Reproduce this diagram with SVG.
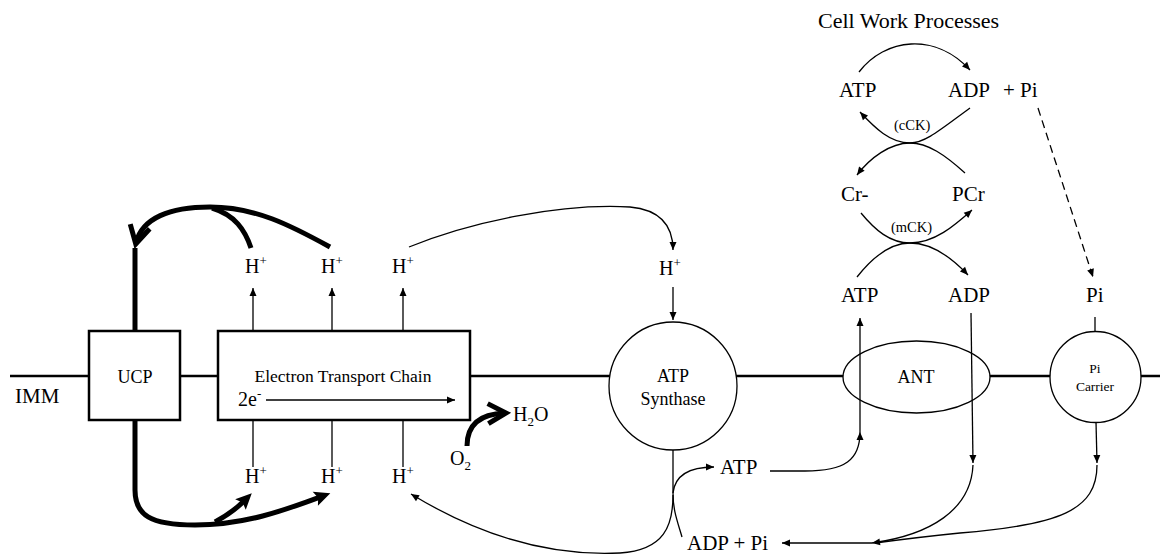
<svg xmlns="http://www.w3.org/2000/svg" width="1160" height="557" viewBox="0 0 1160 557">
<style>
text{font-family:"Liberation Serif","Times New Roman",serif;fill:#000}
.lbl{font-size:21px}
.h{font-size:20px}
.sup{font-size:13px}
.thin{fill:none;stroke:#000;stroke-width:1.3}
.thick{fill:none;stroke:#000;stroke-width:5}
.node{fill:#fff;stroke:#000;stroke-width:2.5}
.nodec{fill:#fff;stroke:#000;stroke-width:1.3}
.mem{stroke:#000;stroke-width:2.5}
</style>
<defs>
<marker id="a" markerUnits="userSpaceOnUse" markerWidth="10" markerHeight="8" refX="8" refY="3.5" orient="auto" overflow="visible"><path d="M0,0 L8,3.5 L0,7 z" fill="#000"/></marker>
<marker id="tk" markerUnits="userSpaceOnUse" markerWidth="18" markerHeight="16" refX="5" refY="7.5" orient="auto" overflow="visible"><path d="M0,0 L16,7.5 L0,15 L3,7.5 z" fill="#000"/></marker>
<marker id="chev" markerUnits="userSpaceOnUse" markerWidth="26" markerHeight="26" refX="18" refY="11" orient="auto" overflow="visible"><path d="M1,1 L19,11 L1,21" fill="none" stroke="#000" stroke-width="5"/></marker>
</defs>

<g id="membrane">
<line class="mem" x1="10" y1="376" x2="1160" y2="376"/>
<text x="15" y="403" class="lbl">IMM</text>
</g>

<g id="ucp">
<rect class="node" x="89" y="331" width="91" height="89"/>
<text x="135" y="383" font-size="18" text-anchor="middle">UCP</text>
</g>

<g id="etc">
<rect class="node" x="218" y="331" width="252" height="89"/>
<text x="343" y="382" font-size="17.5" text-anchor="middle">Electron Transport Chain</text>
<text x="238" y="406" class="h">2e<tspan class="sup" dy="-8">-</tspan></text>
<line class="thin" x1="266" y1="400" x2="455" y2="400" marker-end="url(#a)"/>
</g>

<g id="atp-synthase">
<circle class="nodec" cx="673" cy="386" r="64"/>
<text x="673" y="382" font-size="18" text-anchor="middle">ATP</text>
<text x="673" y="405" font-size="18" text-anchor="middle">Synthase</text>
</g>

<g id="ant">
<ellipse class="nodec" cx="916.5" cy="377" rx="73.5" ry="36"/>
<text x="916" y="383" font-size="18" text-anchor="middle">ANT</text>
</g>

<g id="pi-carrier">
<circle class="nodec" cx="1095.5" cy="377" r="45.5"/>
<text x="1095" y="373" font-size="13.5" text-anchor="middle">Pi</text>
<text x="1095" y="391" font-size="13.5" text-anchor="middle">Carrier</text>
</g>

<g id="labels">
<text x="245" y="273" class="h">H<tspan class="sup" dy="-8">+</tspan></text>
<text x="321" y="273" class="h">H<tspan class="sup" dy="-8">+</tspan></text>
<text x="392" y="273" class="h">H<tspan class="sup" dy="-8">+</tspan></text>
<text x="245" y="483" class="h">H<tspan class="sup" dy="-8">+</tspan></text>
<text x="321" y="483" class="h">H<tspan class="sup" dy="-8">+</tspan></text>
<text x="392" y="483" class="h">H<tspan class="sup" dy="-8">+</tspan></text>
<text x="659" y="275" class="h">H<tspan class="sup" dy="-8">+</tspan></text>
<text x="450" y="465" class="h">O<tspan class="sup" dy="5">2</tspan></text>
<text x="513" y="421" class="h">H<tspan class="sup" dy="5">2</tspan><tspan dy="-5">O</tspan></text>
<text x="720" y="474" class="lbl">ATP</text>
<text x="687" y="550" class="lbl">ADP + Pi</text>
<text x="818" y="28" font-size="22">Cell Work Processes</text>
<text x="839" y="97" class="lbl">ATP</text>
<text x="948" y="97" class="lbl">ADP</text>
<text x="1003" y="97" class="lbl">+ Pi</text>
<text x="894" y="130" font-size="14.5">(cCK)</text>
<text x="841" y="201" class="lbl">Cr-</text>
<text x="952" y="201" class="lbl">PCr</text>
<text x="891" y="232" font-size="14.5">(mCK)</text>
<text x="841" y="302" class="lbl">ATP</text>
<text x="948" y="302" class="lbl">ADP</text>
<text x="1086" y="302" class="lbl">Pi</text>
</g>

<g id="connectors">
<!-- ETC proton pumping -->
<line class="thin" x1="253" y1="331" x2="253" y2="288" marker-end="url(#a)"/>
<line class="thin" x1="332" y1="331" x2="332" y2="288" marker-end="url(#a)"/>
<line class="thin" x1="403" y1="331" x2="403" y2="288" marker-end="url(#a)"/>
<line class="thin" x1="253" y1="420" x2="253" y2="467"/>
<line class="thin" x1="332" y1="420" x2="332" y2="467"/>
<line class="thin" x1="403" y1="420" x2="403" y2="467"/>
<!-- UCP proton leak -->
<line class="thick" x1="135" y1="331" x2="135" y2="248"/>
<path class="thick" d="M330 247 C290 225 255 207 210 207 C170 207 142 218 136 243" marker-end="url(#chev)"/>
<path class="thick" d="M251 248 C245 230 235 215 212 208"/>
<path class="thick" d="M135 420 L135 490 C135 515 150 525 195 525 C245 525 285 510 320 497" marker-end="url(#tk)"/>
<path class="thick" d="M215 522 C226 516 236 509 244 501" marker-end="url(#tk)"/>
<!-- O2 to H2O -->
<path class="thick" d="M467 446 C467 426 478 414 505 413" marker-end="url(#chev)"/>
<!-- H+ to ATP synthase -->
<path class="thin" d="M409 247 C470 222 560 203 630 207 C662 210 673 228 673 250" marker-end="url(#a)"/>
<line class="thin" x1="673" y1="287" x2="673" y2="320" marker-end="url(#a)"/>
<!-- ATP synthase matrix side -->
<line class="thin" x1="673" y1="450" x2="673" y2="493"/>
<path class="thin" d="M673 493 C675 475 690 467 714 467" marker-end="url(#a)"/>
<path class="thin" d="M682 537 C677 520 673 510 673 493"/>
<path class="thin" d="M673 495 C673 525 665 550 620 553 C540 557 470 530 411 494" marker-end="url(#a)"/>
<!-- ATP to ANT -->
<path class="thin" d="M770 471 L805 471 C845 471 860 460 860 432" marker-end="url(#a)"/>
<line class="thin" x1="860" y1="432" x2="860" y2="318" marker-end="url(#a)"/>
<!-- ADP through ANT -->
<line class="thin" x1="971" y1="313" x2="973" y2="463" marker-end="url(#a)"/>
<path class="thin" d="M973 465 C971 510 930 535 872 543" marker-end="url(#a)"/>
<line class="thin" x1="872" y1="543" x2="782" y2="543" marker-end="url(#a)"/>
<!-- Pi carrier -->
<line class="thin" x1="1095" y1="317" x2="1095" y2="332"/>
<line class="thin" x1="1096" y1="422" x2="1097" y2="463" marker-end="url(#a)"/>
<path class="thin" d="M1097 465 C1097 510 1060 525 960 533 C920 537 890 541 875 543"/>
<!-- Cell work / CK shuttle -->
<path class="thin" d="M859 72 C885 38 935 32 970 70" marker-end="url(#a)"/>
<path class="thin" d="M970 108 C940 130 925 143 910 143 C890 143 875 128 860 112" marker-end="url(#a)"/>
<path class="thin" d="M965 173 C945 155 928 143 910 143 C890 143 870 158 857 175" marker-end="url(#a)"/>
<path class="thin" d="M861 213 C875 230 890 243 910 243 C935 243 955 225 972 210" marker-end="url(#a)"/>
<path class="thin" d="M857 277 C872 258 890 243 910 243 C932 243 952 258 968 275" marker-end="url(#a)"/>
<line class="thin" x1="1038" y1="108" x2="1093" y2="277" stroke-dasharray="8 5" marker-end="url(#a)"/>
</g>
</svg>
